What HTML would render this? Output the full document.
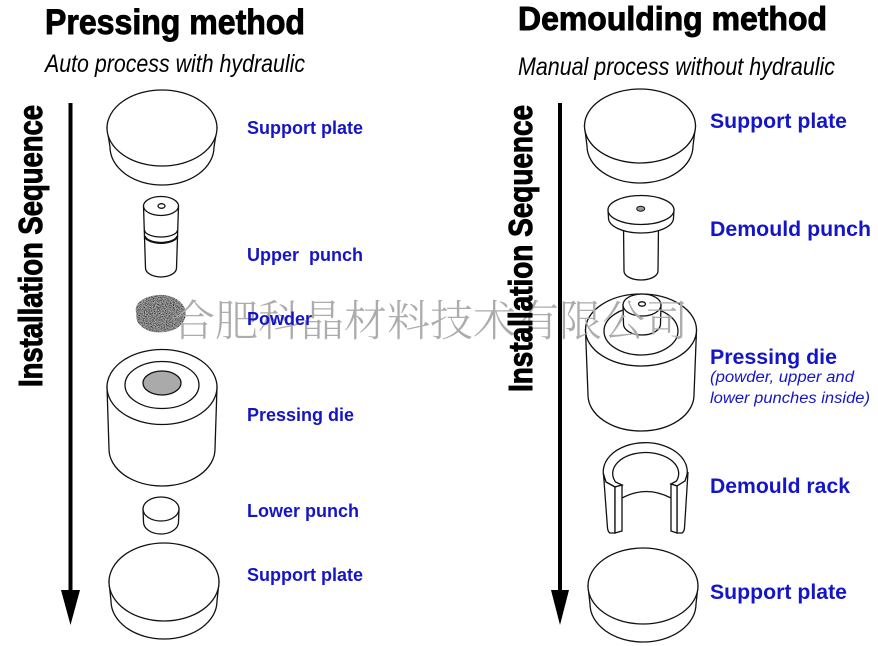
<!DOCTYPE html>
<html>
<head>
<meta charset="utf-8">
<style>
html,body{margin:0;padding:0;background:#fff;}
svg{display:block;}
.t{font-family:"Liberation Sans",Arial,sans-serif;}
.hv{font-family:"Liberation Sans",Arial,sans-serif;font-weight:900;fill:#000;stroke:#000;}
.lbl{font-family:"Liberation Sans",Arial,sans-serif;font-weight:bold;fill:#1515c8;}
.it{font-family:"Liberation Sans",Arial,sans-serif;font-weight:normal;font-style:italic;fill:#1515c8;}
.sh{fill:#fff;stroke:#111;stroke-width:1.3;}
.ln{fill:none;stroke:#111;stroke-width:1.3;}
</style>
</head>
<body>
<svg width="878" height="646" viewBox="0 0 878 646" xmlns="http://www.w3.org/2000/svg">
<defs>
<filter id="noise" x="0" y="0" width="100%" height="100%">
<feTurbulence type="fractalNoise" baseFrequency="1.1" numOctaves="2" seed="7" result="n"/>
<feColorMatrix in="n" type="matrix" values="0 0 0 1.6 -0.5  0 0 0 1.6 -0.5  0 0 0 1.6 -0.5  0 0 0 0 1" result="g"/>
<feComposite in="g" in2="SourceGraphic" operator="in"/>
</filter>
</defs>
<rect width="878" height="646" fill="#fff"/>

<!-- Titles -->
<text class="hv" x="45" y="34" font-size="35" stroke-width="0.9" textLength="260" lengthAdjust="spacingAndGlyphs">Pressing method</text>
<text class="t" x="45" y="72" font-size="25" font-style="italic" textLength="260" lengthAdjust="spacingAndGlyphs">Auto process with hydraulic</text>
<text class="hv" x="518" y="30" font-size="33" stroke-width="0.9" textLength="309" lengthAdjust="spacingAndGlyphs">Demoulding method</text>
<text class="t" x="518" y="75" font-size="25" font-style="italic" textLength="317" lengthAdjust="spacingAndGlyphs">Manual process without hydraulic</text>

<!-- Arrows -->
<line x1="70.5" y1="103" x2="70.5" y2="596" stroke="#000" stroke-width="4"/>
<polygon points="61,590 80,590 70.5,625" fill="#000"/>
<line x1="560" y1="103" x2="560" y2="596" stroke="#000" stroke-width="4"/>
<polygon points="551,590 569,590 560,625" fill="#000"/>

<!-- LEFT shapes -->
<path class="sh" d="M107,128 L110,147 A52 38 0 0 0 214,147 L217,128 Z"/>
<ellipse class="sh" cx="162" cy="128" rx="55" ry="38"/>

<path class="sh" d="M143.5,206 L145.5,268 A15.5 9 0 0 0 176.5,268 L178.5,206 Z"/>
<path class="ln" d="M144.5,230 A16.5 7 0 0 0 177.5,230"/>
<path fill="none" stroke="#111" stroke-width="2.2" d="M144.8,236 A16.3 7.5 0 0 0 177.3,236"/>
<ellipse class="sh" cx="161" cy="206" rx="17.5" ry="9.5"/>
<ellipse class="sh" cx="161.5" cy="206" rx="3.5" ry="2.3"/>

<path d="M136,312 C134,302 146,296 158,295 C170,294 182,300 185,309 C188,318 182,328 170,331 C158,334 146,332 140,325 C135,320 137,316 136,312 Z" fill="#777" filter="url(#noise)"/>
<path d="M136,312 C134,302 146,296 158,295 C170,294 182,300 185,309 C188,318 182,328 170,331 C158,334 146,332 140,325 C135,320 137,316 136,312 Z" fill="#666" opacity="0.3"/>

<path class="sh" d="M107,387 L109,449 A53 37 0 0 0 215,449 L217,387 Z"/>
<ellipse class="sh" cx="162" cy="387" rx="55" ry="37.5"/>
<ellipse class="sh" cx="162" cy="385" rx="37" ry="23.5"/>
<ellipse cx="162" cy="383" rx="19" ry="12" fill="#aaa" stroke="#111" stroke-width="1.3"/>

<path class="sh" d="M143,509 L143.5,522 A17.5 12 0 0 0 178.5,522 L179,509 Z"/>
<ellipse class="sh" cx="161" cy="509" rx="18" ry="12"/>

<path class="sh" d="M109,582 L111,601 A53 38 0 0 0 217,601 L219,582 Z"/>
<ellipse class="sh" cx="164" cy="582" rx="55" ry="39"/>

<!-- RIGHT shapes -->
<path class="sh" d="M584.5,126 L587,146 A53 37 0 0 0 693,146 L695.5,126 Z"/>
<ellipse class="sh" cx="640" cy="126" rx="55.5" ry="37"/>

<path class="sh" d="M623.5,226 L624,271 A17 9 0 0 0 658,271 L658.5,226 Z"/>
<path class="sh" d="M608,210 L608.5,218 A32.5 15 0 0 0 673.5,218 L674,210 Z"/>
<ellipse class="sh" cx="641" cy="210" rx="33" ry="14.5"/>
<ellipse cx="640.7" cy="208.7" rx="4" ry="2.5" fill="#999" stroke="#111" stroke-width="1"/>

<path class="sh" d="M585.5,330 L588,395 A53 36 0 0 0 694,395 L696.5,330 Z"/>
<ellipse class="sh" cx="641" cy="330" rx="55.5" ry="36"/>
<ellipse class="sh" cx="641" cy="331" rx="37" ry="24"/>
<path class="sh" d="M623,305 L623.5,324 A18.5 11 0 0 0 660.5,324 L661,305 Z"/>
<ellipse class="sh" cx="642" cy="305" rx="19" ry="11"/>
<ellipse class="sh" cx="642" cy="304" rx="3.5" ry="2.2"/>

<!-- Demould rack -->
<path class="ln" d="M622,498 Q646,485 671,498"/>
<path class="sh" d="M606,482 A42 29 0 1 1 685,481 L677,486 L671,484 L676.5,481 A33 21 0 1 0 615.5,482 L622,485 L615,487 Z"/>
<path class="sh" d="M603.5,474 L606,482 L615,487 L615,533 L610,533 Q608,532 607.5,528 Z"/>
<path class="sh" d="M615,487 L622,485 L622,531 L615,533 Z"/>
<path class="sh" d="M688,472 L685,481 L677,486 L677,533 L682,533 Q684,532 684.5,528 Z"/>
<path class="sh" d="M671,484 L677,486 L677,533 L671,531 Z"/>

<path class="sh" d="M588,586 L590,604 A53 38 0 0 0 696,604 L698,586 Z"/>
<ellipse class="sh" cx="643" cy="586" rx="55" ry="38"/>

<!-- Watermark -->
<text x="172" y="336" font-size="43" fill="#acacac" font-family="'Noto Serif CJK SC','WenQuanYi Zen Hei',serif" font-weight="300" textLength="516" lengthAdjust="spacingAndGlyphs">合肥科晶材料技术有限公司</text>

<!-- Vertical labels -->
<text class="hv" x="42" y="387" font-size="33" stroke-width="1" transform="rotate(-90 42 387)" textLength="282" lengthAdjust="spacingAndGlyphs">Installation Sequence</text>
<text class="hv" x="532" y="392" font-size="33" stroke-width="1" transform="rotate(-90 532 392)" textLength="287" lengthAdjust="spacingAndGlyphs">Installation Sequence</text>

<!-- Left labels -->
<text class="lbl" x="247" y="134" font-size="18" textLength="116" lengthAdjust="spacingAndGlyphs">Support plate</text>
<text class="lbl" x="247" y="261" font-size="18" textLength="116" lengthAdjust="spacingAndGlyphs" xml:space="preserve">Upper  punch</text>
<text class="lbl" x="247" y="325" font-size="18" textLength="65" lengthAdjust="spacingAndGlyphs">Powder</text>
<text class="lbl" x="247" y="421" font-size="18" textLength="107" lengthAdjust="spacingAndGlyphs">Pressing die</text>
<text class="lbl" x="247" y="517" font-size="18" textLength="112" lengthAdjust="spacingAndGlyphs">Lower punch</text>
<text class="lbl" x="247" y="581" font-size="18" textLength="116" lengthAdjust="spacingAndGlyphs">Support plate</text>

<!-- Right labels -->
<text class="lbl" x="710" y="128" font-size="21" textLength="137" lengthAdjust="spacingAndGlyphs">Support plate</text>
<text class="lbl" x="710" y="236" font-size="21" textLength="161" lengthAdjust="spacingAndGlyphs">Demould punch</text>
<text class="lbl" x="710" y="364" font-size="21" textLength="127" lengthAdjust="spacingAndGlyphs">Pressing die</text>
<text class="it" x="710" y="382" font-size="15.5" textLength="144" lengthAdjust="spacingAndGlyphs">(powder, upper and</text>
<text class="it" x="710" y="403" font-size="15.5" textLength="160" lengthAdjust="spacingAndGlyphs">lower punches inside)</text>
<text class="lbl" x="710" y="493" font-size="21" textLength="140" lengthAdjust="spacingAndGlyphs">Demould rack</text>
<text class="lbl" x="710" y="599" font-size="21" textLength="137" lengthAdjust="spacingAndGlyphs">Support plate</text>
</svg>
</body>
</html>
